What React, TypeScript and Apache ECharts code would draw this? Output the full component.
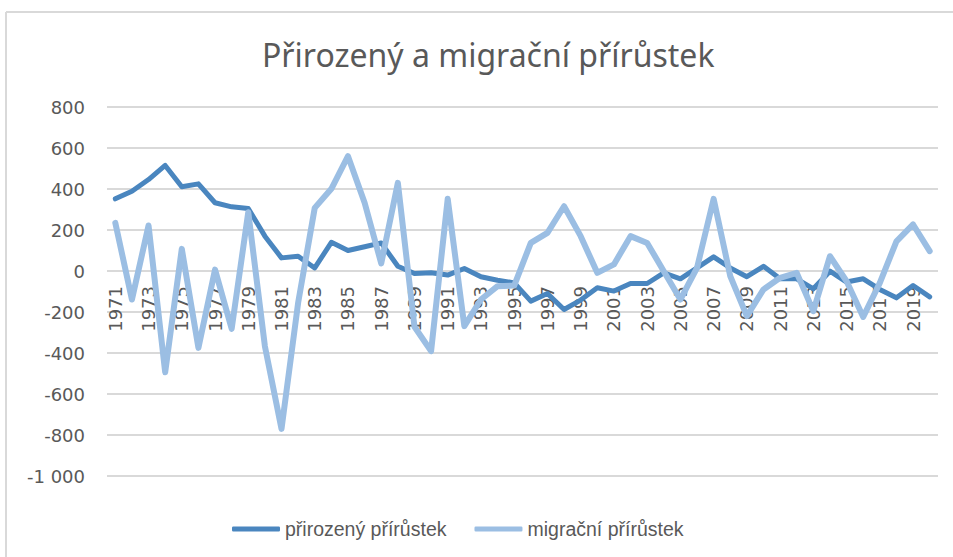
import React, { useEffect, useRef } from "react";
import * as echarts from "echarts";

const years: string[] = [];
for (let y = 1971; y <= 2020; y++) years.push(String(y));

const prirozeny: number[] = [
  352, 389, 446, 515, 411, 425, 333, 313, 305, 170,
  64, 72, 15, 140, 100, 118, 137, 23, -12, -9,
  -20, 12, -28, -45, -58, -147, -110, -188, -142, -82,
  -98, -61, -61, -9, -38, 15, 69, 15, -28, 23,
  -38, -38, -87, -1, -54, -38, -90, -131, -71, -126,
];

const migracni: number[] = [
  235, -139, 222, -494, 108, -375, 7, -282, 287, -367,
  -770, -155, 308, 401, 560, 333, 37, 430, -272, -391,
  352, -269, -139, -74, -71, 137, 186, 316, 170, -9,
  32, 170, 137, -1, -139, 15, 352, -25, -220, -90,
  -33, -9, -196, 72, -50, -224, -58, 145, 227, 97,
];

const seriesNames = ["přirozený přírůstek", "migrační přírůstek"];
const titleText = "Přirozený a migrační přírůstek";

function fmt(v: number): string {
  const s = String(Math.abs(v));
  const withSpace = s.length > 3 ? s.slice(0, s.length - 3) + " " + s.slice(-3) : s;
  return (v < 0 ? "-" : "") + withSpace;
}

export default function App() {
  const ref = useRef<HTMLDivElement>(null);
  useEffect(() => {
    if (!ref.current) return;
    const chart = echarts.init(ref.current, undefined, { renderer: "svg" });
    const labelColor = "#595959";
    const gridTop = 107;
    const gridHeight = 369;
    const yMin = -1000;
    const yMax = 800;
    // distance from bottom of grid to the zero line
    const zeroOffset = (gridHeight * (0 - yMin)) / (yMax - yMin);
    chart.setOption({
      animation: false,
      backgroundColor: "#ffffff",
      title: {
        text: titleText,
        left: 257,
        top: 33,
        textStyle: {
          fontFamily: "Noto Sans",
          fontSize: 32,
          fontWeight: "normal",
          color: labelColor,
        },
      },
      legend: {
        data: seriesNames,
        top: 514,
        left: 227,
        icon: "roundRect",
        itemWidth: 48,
        itemHeight: 5,
        itemGap: 28,
        textStyle: { fontFamily: "Liberation Sans", fontSize: 19.5, color: labelColor },
      },
      grid: { left: 107, right: 15, top: gridTop, height: gridHeight, containLabel: false },
      xAxis: {
        type: "category",
        data: years,
        boundaryGap: true,
        position: "bottom",
        offset: -zeroOffset,
        z: 0,
        axisLine: { show: false, onZero: false },
        axisTick: { show: false },
        axisLabel: {
          interval: 1,
          rotate: 90,
          color: labelColor,
          fontFamily: "DejaVu Sans",
          fontSize: 18,
          margin: 15,
        },
        splitLine: { show: false },
      },
      yAxis: {
        type: "value",
        min: yMin,
        max: yMax,
        interval: 200,
        axisLine: { show: false },
        axisTick: { show: false },
        axisLabel: {
          color: labelColor,
          fontFamily: "DejaVu Sans",
          fontSize: 18,
          margin: 22,
          formatter: (v: number) => fmt(v),
        },
        splitLine: { lineStyle: { color: "#d9d9d9", width: 2 } },
      },
      graphic: [
        { type: "line", shape: { x1: 6, y1: 12, x2: 953, y2: 12 }, style: { stroke: "#d9d9d9", lineWidth: 2 } },
        { type: "line", shape: { x1: 6, y1: 12, x2: 6, y2: 557 }, style: { stroke: "#d9d9d9", lineWidth: 2 } },
      ],
      series: [
        {
          name: seriesNames[0],
          type: "line",
          z: 5,
          data: prirozeny,
          showSymbol: false,
          symbol: "none",
          lineStyle: { color: "#4A86BF", width: 5, join: "round", cap: "round" },
          itemStyle: { color: "#4A86BF" },
        },
        {
          name: seriesNames[1],
          type: "line",
          z: 6,
          data: migracni,
          showSymbol: false,
          symbol: "none",
          lineStyle: { color: "#9BBEE3", width: 6, join: "round", cap: "round" },
          itemStyle: { color: "#9BBEE3" },
        },
      ],
    });
    return () => chart.dispose();
  }, []);
  return (
    <div
      ref={ref}
      style={{ position: "absolute", left: 0, top: 0, width: 953, height: 557 }}
    />
  );
}
